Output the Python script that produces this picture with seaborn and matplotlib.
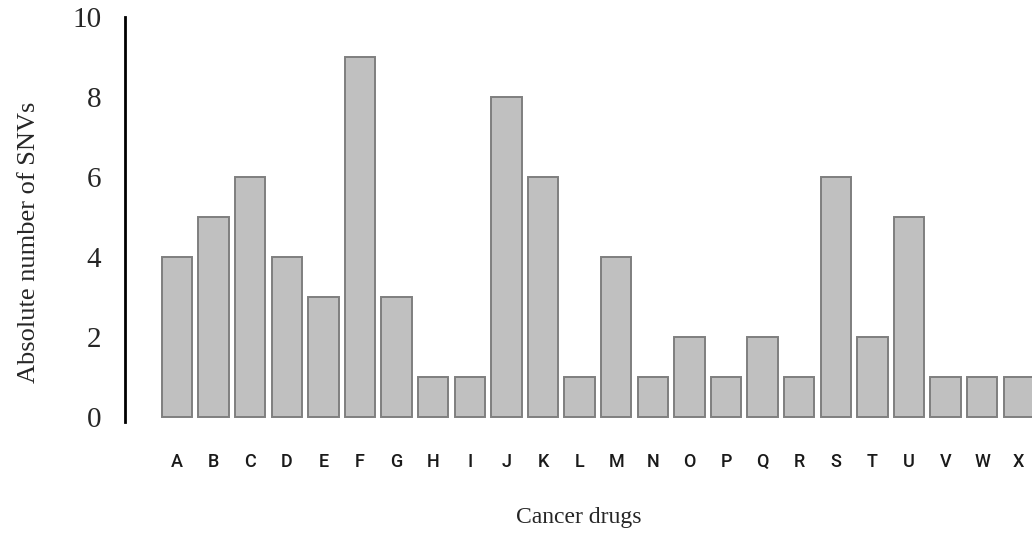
import matplotlib
matplotlib.use("Agg")
import matplotlib.pyplot as plt
import seaborn as sns
import pandas as pd

# Data
drugs = list("ABCDEFGHIJKLMNOPQRSTUVWX")
snv_counts = [4, 5, 6, 4, 3, 9, 3, 1, 1, 8, 6, 1, 4, 1, 2, 1, 2, 1, 6, 2, 5, 1, 1, 1]
y_ticks = [0, 2, 4, 6, 8, 10]

df = pd.DataFrame({"drug": drugs, "snvs": snv_counts})

sns.set_style("white")
serif = ["Liberation Serif", "DejaVu Serif"]
narrow = ["Roboto", "DejaVu Sans"]

fig = plt.figure(figsize=(10.32, 5.35), dpi=100)
ax = fig.add_axes([0.1211, 0.2112, 0.8789, 0.757])

sns.barplot(data=df, x="drug", y="snvs", color="#c0c0c0", saturation=1,
            width=0.83, edgecolor="#7f7f7f", linewidth=1.4, ax=ax)

ax.set_xlim(-1.42, 23.36)
ax.set_ylim(-0.125, 10)
ax.set_yticks(y_ticks)
ax.set_yticklabels([str(t) for t in y_ticks], fontsize=21, family=serif)
for lab in ax.get_xticklabels():
    lab.set_fontfamily(narrow)
    lab.set_fontweight("medium")
    lab.set_fontsize(13)
    lab.set_color("#1a1a1a")

ax.tick_params(axis="x", length=0, pad=22)
ax.tick_params(axis="y", length=3, width=1, color="#999999", pad=14)

for side in ["top", "right", "bottom"]:
    ax.spines[side].set_visible(False)
ax.spines["left"].set_color("black")
ax.spines["left"].set_linewidth(2)

ax.set_ylabel("Absolute number of SNVs", fontsize=19, family=serif)
ax.yaxis.set_label_coords(-0.094, 0.444)
ax.set_xlabel("Cancer drugs", fontsize=17, family=serif)
ax.xaxis.set_label_coords(0.5, -0.21)

fig.savefig("out.png", dpi=100)
